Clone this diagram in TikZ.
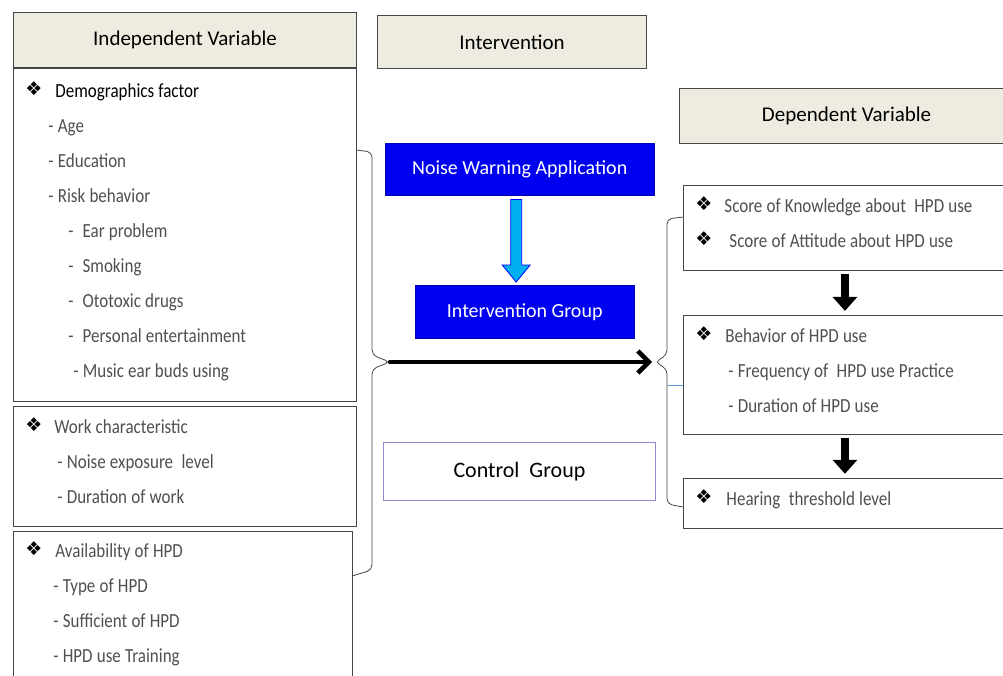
\documentclass[tikz,border=0pt]{standalone}
\usepackage{fontspec}
\setmainfont{Carlito}
\newfontfamily\narrowfont{Carlito}[FakeStretch=0.85]
\newfontfamily\symfont{DejaVu Sans}
\usetikzlibrary{arrows.meta, positioning, calc}
\definecolor{headfill}{RGB}{238,236,225}
\definecolor{edgegray}{RGB}{70,70,70}
\definecolor{txtgray}{RGB}{80,80,80}
\definecolor{appblue}{RGB}{0,0,240}
\definecolor{ctrlpurple}{RGB}{140,140,205}
\definecolor{arrowcyan}{RGB}{0,176,240}
\definecolor{linkblue}{RGB}{91,155,213}
\newcommand{\dia}[1][30pt]{\makebox[#1][l]{\raisebox{2pt}{\color{black}\symfont\fontsize{19}{19}\selectfont ❖}}}
\newcommand{\tightspace}{\spaceskip=4.2pt plus 1pt minus 1pt\relax}
\newcommand{\lastpad}{\rule[-11pt]{0pt}{11pt}}

\begin{document}
\begin{tikzpicture}[x=1pt, y=-1pt,
    head/.style={draw=edgegray, line width=1.1pt, fill=headfill, anchor=north west, inner sep=0pt, font=\fontsize{21}{25}\selectfont},
    box/.style={draw=edgegray, line width=0.9pt, anchor=north west, align=left, inner xsep=12pt, inner ysep=0pt, text=txtgray,
      font=\narrowfont\fontsize{20}{35}\selectfont, execute at begin node=\tightspace},
    bluebox/.style={draw=blue!70!black, fill=appblue, text=white, anchor=north west, inner sep=0pt, font=\fontsize{20}{24}\selectfont},
    brace/.style={draw=edgegray, line width=0.8pt, rounded corners=5pt},
    arr/.style={line width=4.5pt, line cap=round, -{Straight Barb[length=11pt, width=22pt]}},
    down/.style={line width=8pt, -{Triangle[length=14pt, width=24pt]}, shorten <=3pt, shorten >=4pt}]

  \useasboundingbox[fill=white] (0,0) rectangle (1003,675);

  % independent variables
  \node[head, minimum width=343, minimum height=55] (indep) at (13,12) {Independent Variable};
  \node[box, minimum width=343, minimum height=333, text width=319] (demo) at (indep.south west) {%
    {\color{black}\dia Demographics factor}\\
    \hspace*{23pt}- Age\\
    \hspace*{23pt}- Education\\
    \hspace*{23pt}- Risk behavior\\
    \hspace*{43pt}-\hspace{9pt}Ear problem\\
    \hspace*{43pt}-\hspace{9pt}Smoking\\
    \hspace*{43pt}-\hspace{9pt}Ototoxic drugs\\
    \hspace*{43pt}-\hspace{9pt}Personal entertainment\\
    \hspace*{48pt}- Music ear buds using\lastpad};
  \node[box, minimum width=343, minimum height=120, text width=319] (work) at ([yshift=-4pt]demo.south west) {%
    \dia[29pt]Work characteristic\\
    \hspace*{32pt}- Noise exposure\ \ level\\
    \hspace*{32pt}- Duration of work\lastpad};
  \node[box, minimum width=339, minimum height=152, text width=315] (avail) at ([yshift=-4pt]work.south west) {%
    \dia Availability of HPD\\
    \hspace*{28pt}- Type of HPD\\
    \hspace*{28pt}- Sufficient of HPD\\
    \hspace*{28pt}- HPD use Training\lastpad};

  % intervention
  \node[head, minimum width=269, minimum height=53] (interv) at (377,15) {Intervention};
  \node[bluebox, minimum width=269, minimum height=52] (nwa) at (385,143) {Noise Warning Application};
  \node[bluebox, minimum width=219, minimum height=53] (ig) at (415,285) {Intervention Group};
  \node[draw=ctrlpurple, line width=0.9pt, anchor=north west, minimum width=272, minimum height=58,
        font=\fontsize{22}{26}\selectfont] (ctrl) at (383,442) {Control\ \ Group};
  \draw[draw=blue, fill=arrowcyan, line width=0.8pt]
    let \p1=([xshift=-3.5pt]nwa.south), \p2=(ig.north) in
    (\x1-5.5pt,\y1-4pt) -- (\x1-5.5pt,\y2+20pt) -- (\x1-14pt,\y2+20pt) -- (\x1,\y2+3pt)
    -- (\x1+14pt,\y2+20pt) -- (\x1+5.5pt,\y2+20pt) -- (\x1+5.5pt,\y1-4pt) -- cycle;

  % dependent variables
  \node[head, minimum width=334, minimum height=55] (dep) at (679,88) {Dependent Variable};
  \node[box, minimum width=323, minimum height=85, text width=299] (know) at (683,185) {%
    \dia[29pt]Score of Knowledge about\ \ HPD use\\
    \dia[34pt]Score of Attitude about HPD use\lastpad};
  \node[box, below=44pt of know, minimum width=323, minimum height=119, text width=299] (beh) {%
    \dia Behavior of HPD use\\
    \hspace*{33pt}- Frequency of\ \ HPD use Practice\\
    \hspace*{33pt}- Duration of HPD use\lastpad};
  \node[box, below=43pt of beh, minimum width=323, minimum height=50, text width=299] (hear) {%
    \dia[31pt]Hearing\ \ threshold level\lastpad};
  \draw[down] (know) -- (beh);
  \draw[down] (beh) -- (hear);

  % braces and main arrow
  \coordinate (ltip) at (390,362);
  \coordinate (rtip) at (655,362);
  \draw[brace] (356,150) -- (372,152) -- (372,355) -- (ltip) -- (372,369) -- (372,570) -- (352,576);
  \draw[brace] (683,217) -- (667,219) -- (667,355) -- (rtip) -- (667,369) -- (667,504) -- (683,507);
  \coordinate (bx) at (667,385);
  \draw[linkblue, line width=0.8pt] (bx) -- (bx -| beh.west);
  \draw[arr] (ltip) -- ([xshift=-3pt]rtip);
\end{tikzpicture}
\end{document}
